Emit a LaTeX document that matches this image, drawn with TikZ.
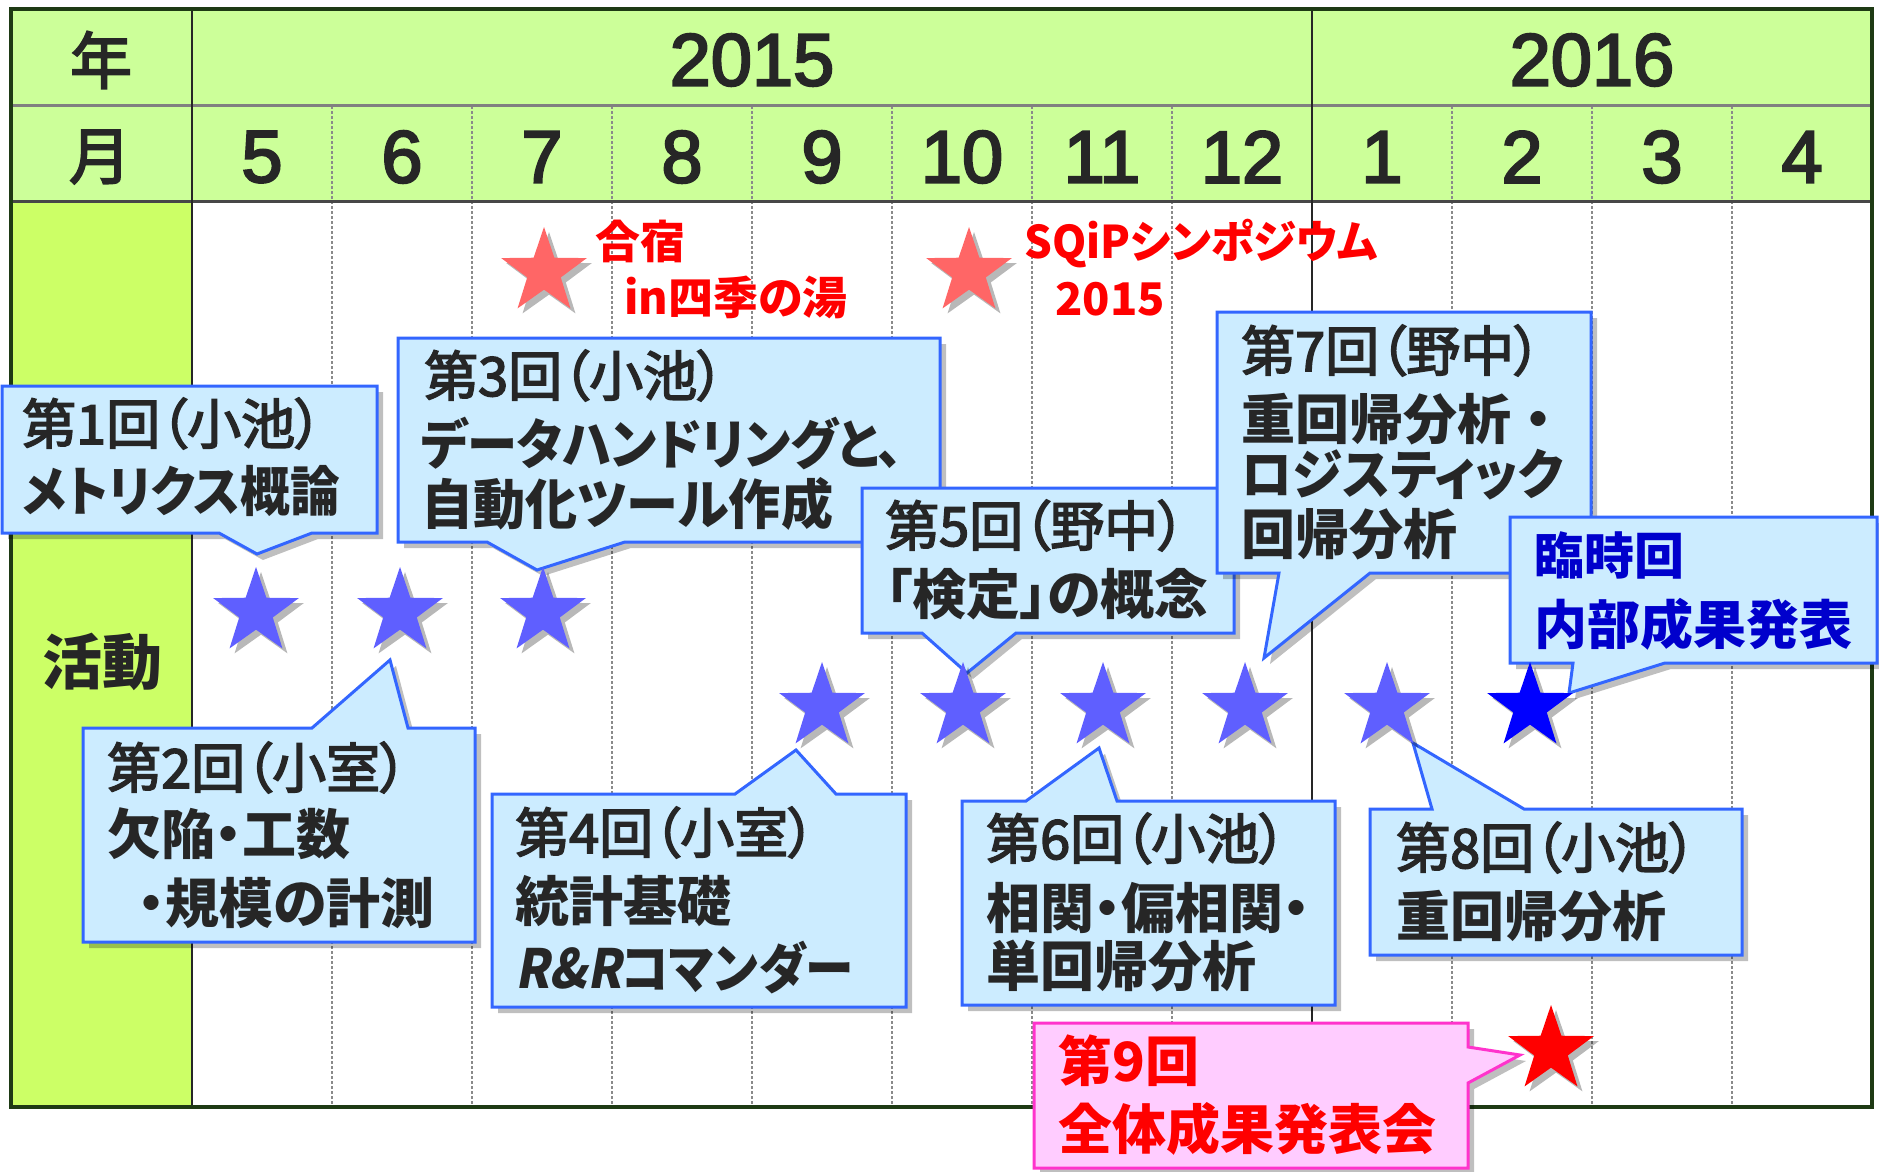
\documentclass[tikz,border=0pt]{standalone}
\usepackage{graphicx}
\usepackage{fontspec}
\usetikzlibrary{shapes.geometric,shadows}
\setmainfont{Liberation Sans}
\newfontfamily\numfont[UprightFeatures={FakeBold=3}]{Liberation Sans}
\newfontfamily\jp[RawFeature=+palt]{Noto Sans CJK JP}
\newfontfamily\jpr[RawFeature=+palt, UprightFeatures={FakeBold=3}]{Noto Sans CJK JP}
\newfontfamily\jpsl[RawFeature=+palt, FakeSlant=0.2]{Noto Sans CJK JP}
\newfontfamily\jpn{Noto Sans CJK JP}
\newfontfamily\jpnr[UprightFeatures={FakeBold=3}]{Noto Sans CJK JP}
\newcommand{\hsq}[2]{\scalebox{#1}[1]{#2}}
\definecolor{hdr}{HTML}{CCFF99}
\definecolor{actcol}{HTML}{CCFF66}
\definecolor{frame}{HTML}{1E3A14}
\definecolor{ink}{HTML}{262626}
\definecolor{cfill}{HTML}{CCECFF}
\definecolor{cline}{HTML}{3366FF}
\definecolor{pfill}{HTML}{FFCCFF}
\definecolor{pline}{HTML}{FF33CC}
\definecolor{lred}{HTML}{FF6666}
\definecolor{bstar}{HTML}{5F5FFF}
\definecolor{dstar}{HTML}{0000FF}
\definecolor{navytext}{HTML}{0000CC}
\definecolor{dotgray}{HTML}{8A8A8A}
\begin{document}
\begin{tikzpicture}[x=1pt,y=-1pt,
  callout/.style={fill=cfill, draw=cline, line width=3pt, line join=miter,
    drop shadow={shadow xshift=6pt, shadow yshift=-6pt, opacity=0.25, fill=black}},
  pcallout/.style={callout, fill=pfill, draw=pline},
  starnode/.style={star, star points=5, star point ratio=2.55, minimum size=90pt,
    inner sep=0pt, draw=none,
    drop shadow={shadow xshift=5pt, shadow yshift=-5pt, opacity=0.28, fill=black}},
  regtxt/.style={anchor=base west, inner sep=0pt, text=ink, font=\jpr\fontsize{54}{54}\selectfont},
  bldtxt/.style={anchor=base west, inner sep=0pt, text=ink, font=\jp\bfseries\fontsize{54}{54}\selectfont},
  redtxt/.style={anchor=base west, inner sep=0pt, text=red, font=\jp\bfseries\fontsize{45}{45}\selectfont},
  hdrcjk/.style={inner sep=0pt, text=ink, font=\jpnr\fontsize{62}{62}\selectfont},
  hdrnum/.style={inner sep=0pt, text=ink, font=\numfont\fontsize{74}{74}\selectfont},
  monthline/.style={dotgray, line width=1.5pt, dash pattern=on 2.5pt off 2.5pt}
]
\useasboundingbox (0,0) rectangle (1879,1172);
\fill[white] (0,0) rectangle (1879,1172);

% table
\fill[hdr] (11,9) rectangle (1872,201);
\fill[actcol] (11,201) rectangle (192,1107);
\foreach \x in {332,472,612,752,892,1032,1172,1452,1592,1732}
  \draw[monthline] (\x,106) -- (\x,1105);
\draw[line width=3pt, color=gray] (11,105) -- (1872,105);
\draw[line width=3pt, color=ink!85] (11,201) -- (1872,201);
\draw[line width=2.5pt, color=ink] (192,9) -- (192,1107);
\draw[line width=2pt, color=ink] (1312,9) -- (1312,1107);
\draw[line width=4pt, frame] (11,9) rectangle (1872,1107);

% header text
\node[hdrcjk] (nen) at (101,60) {年};
\node[hdrcjk] (tsuki) at (100,157) {月};
\node[hdrnum] (y2015) at (752,60) {2015};
\node[hdrnum] (y2016) at (1592,60) {2016};
\node[hdrnum] (m5) at (262,157) {5};
\node[hdrnum] (m6) at (402,157) {6};
\node[hdrnum] (m7) at (542,157) {7};
\node[hdrnum] (m8) at (682,157) {8};
\node[hdrnum] (m9) at (822,157) {9};
\node[hdrnum] (m10) at (962,157) {10};
\node[hdrnum] (m11) at (1102,157) {11};
\node[hdrnum] (m12) at (1242,157) {12};
\node[hdrnum] (m1) at (1382,157) {1};
\node[hdrnum] (m2) at (1522,157) {2};
\node[hdrnum] (m3) at (1662,157) {3};
\node[hdrnum] (m4) at (1802,157) {4};
\node[inner sep=0pt, text=ink, font=\jp\bfseries\fontsize{60}{60}\selectfont] (katsudo) at (102,662) {活動};

% red event labels
\node[redtxt] (gasshuku1) at (595,258) {合宿};
\node[redtxt] (gasshuku2) at (624,314) {in四季の湯};
\node[redtxt] (sqip1) at (1024,258) {\hsq{0.97}{SQiPシンポジウム}};
\node[redtxt] (sqip2) at (1055,315) {2015};

% callout 1
\path[callout] (2,386) -- (377,386) -- (377,533) -- (312,533) -- (257,554) -- (219,533) -- (2,533) -- cycle;
\node[regtxt] (c1a) at (22,444) {第1回（小池）};
\node[bldtxt] (c1b) at (22,511) {\hsq{0.92}{メトリクス概論}};

% callout 3
\path[callout] (398,338) -- (940,338) -- (940,542) -- (625,542) -- (537,570) -- (487,542) -- (398,542) -- cycle;
\node[regtxt] (c3a) at (424,396) {第3回（小池）};
\node[bldtxt] (c3b) at (421,464) {\hsq{0.93}{データハンドリングと、}};
\node[bldtxt] (c3c) at (421,524) {\hsq{0.965}{自動化ツール作成}};

% callout 5
\path[callout] (862,488) -- (1234,488) -- (1234,633) -- (1016,633) -- (967,673) -- (922,633) -- (862,633) -- cycle;
\node[regtxt] (c5a) at (885,546) {第5回（野中）};
\node[bldtxt] (c5b) at (885,614) {「検定」の概念};

% callout 7
\path[callout] (1217,312) -- (1591,312) -- (1591,573) -- (1370,573) -- (1264,658) -- (1279,573) -- (1217,573) -- cycle;
\node[regtxt] (c7a) at (1241,371) {第7回（野中）};
\node[bldtxt, font=\jpn\bfseries\fontsize{54}{54}\selectfont] (c7b) at (1241,439) {重回帰分析・};
\node[bldtxt] (c7c) at (1241,494) {\hsq{0.94}{ロジスティック}};
\node[bldtxt] (c7d) at (1241,554) {回帰分析};

% callout extra
\path[callout] (1510,517) -- (1877,517) -- (1877,663) -- (1665,663) -- (1569,693) -- (1573,663) -- (1510,663) -- cycle;
\node[bldtxt, text=navytext, font=\jp\bfseries\fontsize{50}{50}\selectfont] (cxa) at (1534,574) {臨時回};
\node[bldtxt, text=navytext, font=\jp\bfseries\fontsize{53}{53}\selectfont] (cxb) at (1534,644) {内部成果発表};

% callout 2
\path[callout] (83,728) -- (312,728) -- (390,660) -- (408,728) -- (475,728) -- (475,942) -- (83,942) -- cycle;
\node[regtxt] (c2a) at (107,788) {第2回（小室）};
\node[bldtxt] (c2b) at (107,854) {欠陥・工数};
\node[bldtxt] (c2c) at (138,923) {・規模の計測};

% callout 4
\path[callout] (492,794) -- (735,794) -- (796,750) -- (836,794) -- (906,794) -- (906,1007) -- (492,1007) -- cycle;
\node[regtxt] (c4a) at (515,853) {第4回（小室）};
\node[bldtxt] (c4b) at (515,921) {統計基礎};
\node[bldtxt] (c4c) at (515,988) {\hsq{0.9}{{\jpsl\bfseries R\&R}コマンダー}};

% callout 6
\path[callout] (962,801) -- (1026,801) -- (1099,748) -- (1117,801) -- (1335,801) -- (1335,1005) -- (962,1005) -- cycle;
\node[regtxt] (c6a) at (986,859) {第6回（小池）};
\node[bldtxt] (c6b) at (986,928) {相関・偏相関・};
\node[bldtxt] (c6c) at (986,986) {単回帰分析};

% callout 8
\path[callout] (1370,809) -- (1432,809) -- (1413,743) -- (1524,809) -- (1742,809) -- (1742,955) -- (1370,955) -- cycle;
\node[regtxt] (c8a) at (1396,868) {第8回（小池）};
\node[bldtxt] (c8b) at (1396,936) {重回帰分析};

% callout 9
\path[pcallout] (1034,1023) -- (1468,1023) -- (1468,1047) -- (1520,1055) -- (1468,1083) -- (1468,1168) -- (1034,1168) -- cycle;
\node[bldtxt, text=red] (c9a) at (1058,1081) {第9回};
\node[bldtxt, text=red] (c9b) at (1058,1149) {全体成果発表会};

% stars
\node[starnode, fill=lred] (sg) at (544,272) {};
\node[starnode, fill=lred] (ss) at (969,272) {};
\node[starnode, fill=bstar] (s1) at (256,612) {};
\node[starnode, fill=bstar] (s2) at (400,612) {};
\node[starnode, fill=bstar] (s3) at (543,612) {};
\node[starnode, fill=bstar] (s4) at (822,707) {};
\node[starnode, fill=bstar] (s5) at (963,707) {};
\node[starnode, fill=bstar] (s6) at (1103,707) {};
\node[starnode, fill=bstar] (s7) at (1245,707) {};
\node[starnode, fill=bstar] (s8) at (1387,707) {};
\node[starnode, fill=dstar] (sx) at (1530,707) {};
\node[starnode, fill=red] (s9) at (1551,1050) {};
\end{tikzpicture}
\end{document}
